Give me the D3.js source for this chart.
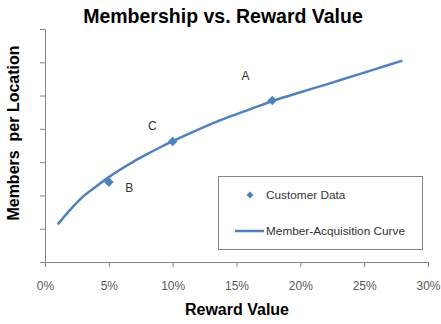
<!DOCTYPE html>
<html>
<head>
<meta charset="utf-8">
<script src="https://cdn.jsdelivr.net/npm/d3@7"></script>
<style>
  body { margin: 0; background: #fff; }
  text { font-family: "Liberation Sans", Arial, sans-serif; }
</style>
</head>
<body>
<div id="chart"></div>
<script>
// data
var xTicks = [0, 5, 10, 15, 20, 25, 30];
var yTicks = [0, 1, 2, 3, 4, 5, 6, 7];
var curveX = [1, 2, 3, 4, 5, 6, 7, 8, 9, 10, 12, 14, 16, 18, 20, 22, 24, 26, 28];
var curveY = [1.13, 1.58, 1.97, 2.27, 2.55, 2.80, 3.03, 3.24, 3.44, 3.63, 3.98, 4.30, 4.58, 4.86, 5.10, 5.33, 5.57, 5.81, 6.05];
var pointX = [5, 10, 17.8];
var pointY = [2.40, 3.62, 4.85];
var labelText = ["A", "C", "B"];
var labelX = [15.7, 8.4, 6.6];
var labelY = [5.59, 4.08, 2.22];
var legendItems = ["Customer Data", "Member-Acquisition Curve"];

var width = 441, height = 324;
var blue = "#4F81BD";
var axisColor = "#868686";

var svg = d3.select("#chart").append("svg")
  .attr("width", width)
  .attr("height", height);

var x = d3.scaleLinear().domain([0, 30]).range([45, 428]);
var y = d3.scaleLinear().domain([0, 7]).range([262, 29]);

// title
svg.append("text")
  .attr("x", 223).attr("y", 23)
  .attr("text-anchor", "middle")
  .style("font-size", "19.5px").style("font-weight", "bold")
  .attr("fill", "#000")
  .text("Membership vs. Reward Value");

// y axis (no labels)
var yAxis = svg.append("g")
  .attr("transform", "translate(" + x(0) + ",0)")
  .call(d3.axisLeft(y).tickValues(yTicks).tickSize(5).tickFormat(""));
yAxis.selectAll("path, line").attr("stroke", axisColor);

// x axis
var xAxis = svg.append("g")
  .attr("transform", "translate(0," + y(0) + ")")
  .call(d3.axisBottom(x).tickValues(xTicks).tickSize(5).tickSizeOuter(5)
    .tickFormat(function(d) { return d + "%"; }));
xAxis.selectAll("path, line").attr("stroke", axisColor);
xAxis.selectAll("text")
  .attr("dy", "0")
  .attr("y", 28)
  .attr("fill", "#595959")
  .style("font-size", "12px");

// axis titles
svg.append("text")
  .attr("x", 237).attr("y", 315)
  .attr("text-anchor", "middle")
  .style("font-size", "16px").style("font-weight", "bold")
  .text("Reward Value");

svg.append("text")
  .attr("transform", "translate(19,133) rotate(-90)")
  .attr("text-anchor", "middle")
  .style("font-size", "16px").style("font-weight", "bold")
  .style("white-space", "pre")
  .attr("xml:space", "preserve")
  .text("Members  per Location");

// curve
var line = d3.line()
  .x(function(d, i) { return x(curveX[i]); })
  .y(function(d, i) { return y(curveY[i]); })
  .curve(d3.curveMonotoneX);

svg.append("path")
  .datum(curveX)
  .attr("d", line)
  .attr("fill", "none")
  .attr("stroke", blue)
  .attr("stroke-width", 2.5);

// points (square turned 45 degrees)
var diamond = d3.symbol().type(d3.symbolSquare).size(46);
svg.selectAll(".pt")
  .data(pointX)
  .enter().append("path")
  .attr("class", "pt")
  .attr("d", diamond)
  .attr("transform", function(d, i) { return "translate(" + x(d) + "," + y(pointY[i]) + ") rotate(45)"; })
  .attr("fill", blue);

// point labels
svg.selectAll(".lbl")
  .data(labelText)
  .enter().append("text")
  .attr("class", "lbl")
  .attr("x", function(d, i) { return x(labelX[i]); })
  .attr("y", function(d, i) { return y(labelY[i]); })
  .attr("text-anchor", "middle")
  .attr("dominant-baseline", "central")
  .attr("fill", "#333")
  .style("font-size", "12px")
  .text(function(d) { return d; });

// legend
var legend = svg.append("g");
legend.append("rect")
  .attr("x", 218.5).attr("y", 176.5)
  .attr("width", 204).attr("height", 73)
  .attr("fill", "#fff")
  .attr("stroke", axisColor);

legend.append("path")
  .attr("d", d3.symbol().type(d3.symbolSquare).size(24))
  .attr("transform", "translate(250,195) rotate(45)")
  .attr("fill", blue);
legend.append("line")
  .attr("x1", 235).attr("x2", 264)
  .attr("y1", 231).attr("y2", 231)
  .attr("stroke", blue).attr("stroke-width", 2.5);

legend.selectAll(".lg")
  .data(legendItems)
  .enter().append("text")
  .attr("class", "lg")
  .attr("x", 266)
  .attr("y", function(d, i) { return i === 0 ? 195 : 231; })
  .attr("dominant-baseline", "central")
  .attr("fill", "#333")
  .style("font-size", "11.8px")
  .text(function(d) { return d; });
</script>
</body>
</html>
